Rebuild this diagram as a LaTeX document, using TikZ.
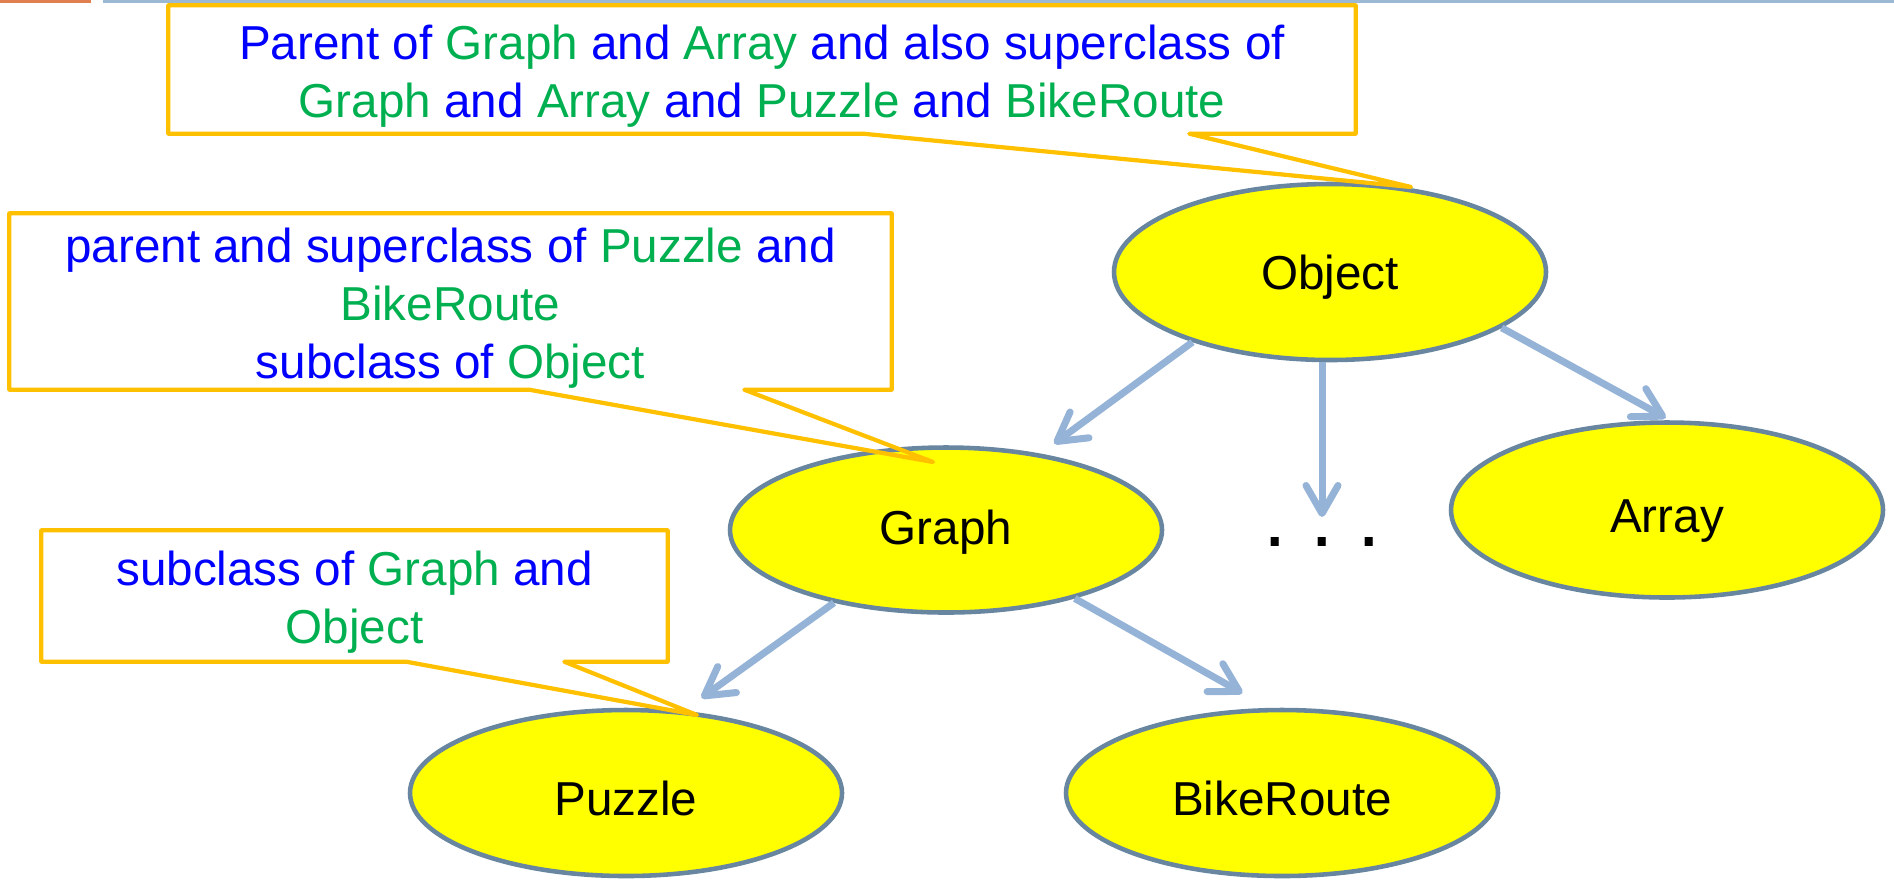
\documentclass[tikz,border=0pt]{standalone}
\usepackage{fontspec}
\setmainfont{Liberation Sans}
\usepackage{tikz}
\usetikzlibrary{arrows.meta,positioning,shapes.geometric,calc}
\usepackage{xcolor}
\definecolor{noteblue}{RGB}{0,0,255}
\definecolor{classgreen}{RGB}{0,176,80}
\definecolor{noteedge}{RGB}{255,192,0}
\definecolor{ovalfill}{RGB}{255,255,0}
\definecolor{ovaledge}{RGB}{104,134,160}
\definecolor{linkblue}{RGB}{149,179,215}
\definecolor{barorange}{RGB}{224,128,80}
\definecolor{barblue}{RGB}{155,185,210}
\newcommand{\cls}[1]{\textcolor{classgreen}{#1}}

\begin{document}
\begin{tikzpicture}[every node/.style={font=\fontsize{13.55}{16.5}\selectfont}]
\tikzset{oval/.style={ellipse, draw=ovaledge, line width=1.3pt, fill=ovalfill, minimum width=4.32cm, minimum height=1.68cm, inner sep=0pt, text height=0.44cm, text depth=0pt},
  note/.style={align=center, text=noteblue, inner sep=0pt},
  notepen/.style={draw=noteedge, line width=1.2pt, line join=round},
  link/.style={draw=linkblue, line width=2pt, -{Straight Barb[length=0.28cm, width=0.32cm, round]}}}
\useasboundingbox (0,0) rectangle (18.94,-8.85);
\fill[barorange] (0,0) rectangle (0.91,-0.025);
\fill[barblue] (1.03,0) rectangle (18.94,-0.025);

% class tree
\node[oval, minimum height=1.76cm, text height=0.34cm] (obj) at (13.30,-2.72) {Object};
\node[oval, minimum height=1.65cm, text height=0.29cm] (graph) at (9.46,-5.30) {Graph};
\node[oval, minimum height=1.75cm] (array) at (16.67,-5.10) {Array};
\node[oval, minimum height=1.66cm] (puzzle) at (6.26,-7.93) {Puzzle};
\node[oval, minimum height=1.66cm] (bike) at (12.82,-7.93) {BikeRoute};
\node[anchor=north, inner sep=0pt, text height=0.29cm, font=\fontsize{24}{24}\selectfont] (dots) at (13.22,-5.17) {.\ .\ .};

\draw[link, shorten >=0.17cm] (obj.207) -- (graph.39);
\draw[link] (dots.north |- obj.south) -- (dots.north);
\draw[link, shorten >=0.05cm] (obj.342) -- (array.88);
\draw[link, shorten >=0.22cm] (graph.213) -- (puzzle.55);
\draw[link, shorten >=0.30cm] (graph.332) -- (bike.99);

% callouts
\node[note, minimum width=11.86cm, minimum height=1.27cm, text height=1.05cm] (note1) at (7.62,-0.695)
  {Parent of \cls{Graph} and \cls{Array} and also superclass of\\\cls{Graph} and \cls{Array} and \cls{Puzzle} and \cls{BikeRoute}};
\node[note, minimum width=8.81cm, minimum height=1.75cm, text height=1.63cm] (note2) at (4.505,-3.015)
  {parent and superclass of \cls{Puzzle} and\\\cls{BikeRoute}\\subclass of \cls{Object}};
\node[note, minimum width=6.25cm, minimum height=1.30cm, text height=1.05cm] (note3) at (3.545,-5.96)
  {subclass of \cls{Graph} and\\\cls{Object}};
\coordinate (tip1) at (14.11,-1.87);
\coordinate (tip2) at (9.33,-4.62);
\coordinate (tip3) at (6.97,-7.15);

\draw[notepen] (note1.south west) |- (note1.north east) |- ($(note1.south west)+(10.21,0)$) -- (tip1) -- ($(note1.south west)+(6.95,0)$) -- cycle;
\draw[notepen] (note2.south west) |- (note2.north east) |- ($(note2.south west)+(7.35,0)$) -- (tip2) -- ($(note2.south west)+(5.20,0)$) -- cycle;
\draw[notepen] (note3.south west) |- (note3.north east) |- ($(note3.south west)+(5.23,0)$) -- (tip3) -- ($(note3.south west)+(3.65,0)$) -- cycle;
\end{tikzpicture}
\end{document}
